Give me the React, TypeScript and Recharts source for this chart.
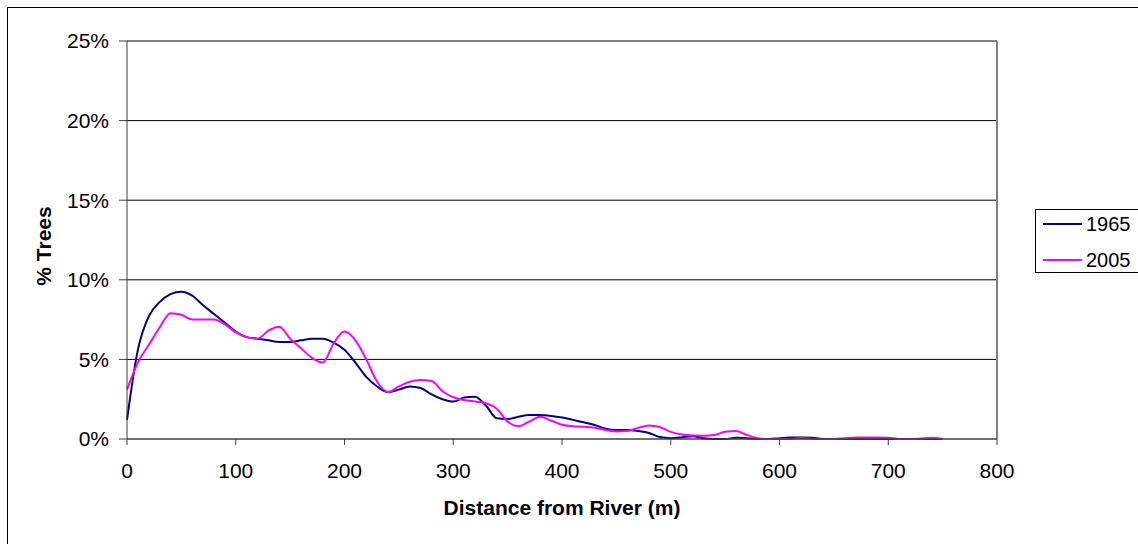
import { LineChart, Line, XAxis, YAxis, CartesianGrid, ReferenceLine, Label } from "recharts";

const FONT = '"Liberation Sans", Arial, sans-serif';

// distance from the river, metres (one reading every 10 m)
const distance = [
  0, 10, 20, 30, 40, 50, 60, 70, 80, 90,
  100, 110, 120, 130, 140, 150, 160, 170, 180, 190,
  200, 210, 220, 230, 240, 250, 260, 270, 280, 290,
  300, 310, 320, 330, 340, 350, 360, 370, 380, 390,
  400, 410, 420, 430, 440, 450, 460, 470, 480, 490,
  500, 510, 520, 530, 540, 550, 560, 570, 580, 590,
  600, 610, 620, 630, 640, 650, 660, 670, 680, 690,
  700, 710, 720, 730, 740, 750,
];

// % of trees at each distance
const trees1965 = [
  1.2, 5.6, 7.7, 8.6, 9.1, 9.25, 9.0, 8.4, 7.85, 7.3,
  6.75, 6.4, 6.3, 6.2, 6.1, 6.1, 6.2, 6.3, 6.3, 6.05,
  5.6, 4.8, 3.9, 3.3, 2.95, 3.1, 3.3, 3.2, 2.8, 2.5,
  2.35, 2.6, 2.66, 2.1, 1.3, 1.25, 1.4, 1.5, 1.5, 1.45,
  1.35, 1.2, 1.05, 0.88, 0.65, 0.57, 0.57, 0.5, 0.38, 0.12,
  0.05, 0.1, 0.18, 0.05, 0, 0, 0.08, 0.05, 0, 0,
  0.05, 0.1, 0.1, 0.08, 0, 0, 0, 0, 0, 0,
  0, 0, 0, 0, 0, 0,
];

const trees2005 = [
  3.1, 4.8, 5.9, 7.0, 7.9, 7.8, 7.5, 7.5, 7.5, 7.2,
  6.7, 6.4, 6.3, 6.8, 7.05, 6.3, 5.7, 5.1, 4.8, 6.0,
  6.75, 6.2, 5.0, 3.6, 2.95, 3.3, 3.6, 3.7, 3.65, 3.0,
  2.62, 2.45, 2.35, 2.25, 1.9, 1.1, 0.8, 1.1, 1.4, 1.15,
  0.9, 0.8, 0.77, 0.7, 0.57, 0.47, 0.5, 0.7, 0.85, 0.75,
  0.45, 0.28, 0.22, 0.21, 0.25, 0.45, 0.5, 0.25, 0.05, 0,
  0, 0, 0.05, 0, 0, 0, 0.05, 0.1, 0.1, 0.1,
  0.08, 0, 0, 0.03, 0.08, 0,
];

const xTicks = [0, 100, 200, 300, 400, 500, 600, 700, 800];
const yTicks = [0, 5, 10, 15, 20, 25];

const series = [
  { key: "y1965", name: "1965", color: "#000080" },
  { key: "y2005", name: "2005", color: "#FF00FF" },
];

export default function App() {
  const data = distance.map((d, i) => ({
    distance: d,
    y1965: trees1965[i],
    y2005: trees2005[i],
  }));

  return (
    <div
      style={{
        position: "absolute",
        left: 7,
        top: 7,
        width: 1131,
        height: 537,
        boxSizing: "border-box",
        borderLeft: "1px solid #000",
        borderTop: "1px solid #000",
        overflow: "hidden",
        background: "#fff",
        fontFamily: FONT,
      }}
    >
      <LineChart width={1130} height={536} data={data} margin={{ top: 33, right: 141, bottom: 0, left: 0 }}>
        <CartesianGrid vertical={false} stroke="#000" horizontalValues={[5, 10, 15, 20]} />
        <XAxis
          dataKey="distance"
          type="number"
          domain={[0, 800]}
          ticks={xTicks}
          height={105}
          tickSize={6}
          tickMargin={18}
          stroke="#404040"
          tick={{ fill: "#000", fontSize: 21, fontFamily: FONT }}
        >
          <Label
            value="Distance from River (m)"
            position="insideBottom"
            offset={29}
            style={{ fontWeight: 700, fontSize: 21, fill: "#000", fontFamily: FONT }}
          />
        </XAxis>
        <YAxis
          type="number"
          domain={[0, 25]}
          ticks={yTicks}
          width={119}
          tickSize={8}
          tickMargin={10}
          stroke="#404040"
          tickFormatter={(v) => `${v}%`}
          tick={{ fill: "#000", fontSize: 21, fontFamily: FONT }}
        >
          <Label
            value="% Trees"
            position="center"
            angle={-90}
            dx={-24}
            dy={6}
            style={{ fontWeight: 700, fontSize: 21, fill: "#000", fontFamily: FONT }}
          />
        </YAxis>
        {/* grey frame on the top and right of the plot */}
        <ReferenceLine y={25} stroke="#808080" strokeWidth={2} />
        <ReferenceLine x={800} stroke="#808080" strokeWidth={2} />
        {series.map((s) => (
          <Line
            key={s.key}
            dataKey={s.key}
            name={s.name}
            type="monotone"
            stroke={s.color}
            strokeWidth={2}
            dot={false}
            isAnimationActive={false}
          />
        ))}
        {/* axis line redrawn over the zero stretches of the curves */}
        <ReferenceLine y={0} stroke="#404040" strokeWidth={1} />
      </LineChart>

      <div
        style={{
          position: "absolute",
          left: 1027,
          top: 201,
          width: 120,
          height: 64,
          boxSizing: "border-box",
          border: "1px solid #000",
          background: "#fff",
        }}
      >
        {series.map((s, i) => (
          <div
            key={s.key}
            style={{
              position: "absolute",
              left: 7,
              top: 2 + i * 36,
              height: 24,
              display: "flex",
              alignItems: "center",
              fontSize: 20,
              color: "#000",
              whiteSpace: "nowrap",
            }}
          >
            <svg width={39} height={4} style={{ marginRight: 4 }}>
              <line x1={0} y1={2} x2={39} y2={2} stroke={s.color} strokeWidth={2} />
            </svg>
            {s.name}
          </div>
        ))}
      </div>
    </div>
  );
}
